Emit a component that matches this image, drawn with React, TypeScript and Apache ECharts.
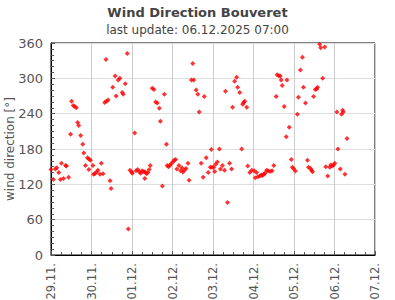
import React, { useEffect, useRef } from "react";
import * as echarts from "echarts";

const dayLabels = ["29.11.", "30.11.", "01.12.", "02.12.", "03.12.", "04.12.", "05.12.", "06.12.", "07.12."];
const yTicks = [0, 60, 120, 180, 240, 300, 360];

// [hour of day, wind direction in degrees]
const nov29 = [[0, 145], [1.4, 128], [2.6, 146], [3.4, 148], [4.6, 140], [5.6, 128], [6.2, 156], [7.4, 130], [8.6, 152], [9.2, 151], [10.4, 132], [11.6, 205], [12.2, 261], [13.2, 254], [14, 252], [15, 250], [15.8, 225], [16.4, 220], [17.6, 203], [18.8, 188], [19.4, 173], [20.4, 152], [21.6, 165], [22.4, 163], [22.4, 145], [23.4, 161]];
const nov30 = [[0.8, 152], [1.2, 137], [2, 138], [3, 141], [3.8, 144], [5, 137], [5.8, 156], [6.8, 138], [7.8, 259], [8.6, 332], [8.8, 261], [9.8, 263], [11, 126], [11.6, 113], [12.6, 285], [14, 304], [14.6, 270], [15.8, 297], [16.8, 300], [18.2, 276], [18.8, 273], [20, 291], [21.2, 342], [21.8, 44], [22.8, 144], [23.8, 141]];
const dec01 = [[0.2, 139], [1.6, 207], [2.4, 143], [3.4, 145], [4.4, 141], [5.2, 139], [6, 143], [7, 142], [7.6, 130], [7.8, 141], [8.6, 138], [9.4, 140], [10.2, 145], [10.8, 152], [12, 283], [13, 281], [14, 260], [15, 258], [16.2, 249], [16.8, 227], [18, 117], [19.2, 273], [20.4, 188], [20.8, 152], [21.6, 150], [22.4, 152], [23.2, 155]];
const dec02 = [[0.2, 158], [1, 161], [1.8, 162], [2.6, 146], [3.8, 152], [4.8, 143], [5.6, 148], [6.2, 141], [7, 144], [8, 147], [9.2, 156], [9.8, 127], [11.2, 297], [12, 325], [12.6, 297], [14, 280], [15, 273], [15.8, 243], [17, 156], [18.2, 132], [18.8, 269], [20, 165], [21.2, 140], [22.4, 149], [23, 179], [23.4, 149]];
const dec03 = [[0.4, 149], [1, 142], [1.6, 154], [2.6, 158], [3.8, 180], [4.4, 146], [5.6, 152], [6.8, 144], [7.4, 278], [8.6, 89], [9.8, 156], [11, 146], [11.6, 251], [12.8, 295], [14, 302], [14.6, 285], [15.8, 276], [17, 180], [17.6, 256], [18.2, 259], [18.8, 261], [20, 251], [20.6, 151], [21.8, 140], [23, 144]];
const dec04 = [[0.4, 143], [1, 131], [1.8, 140], [2.6, 133], [3.8, 134], [4.6, 136], [5.4, 135], [6.2, 137.5], [6.8, 139], [7.8, 144], [8.6, 143], [9.8, 142], [11, 143], [12, 152], [13.4, 269], [14, 306], [15, 304.5], [15.8, 304], [16.4, 297], [17, 288], [18.2, 252], [19.4, 201], [19.8, 297], [21.2, 217], [22.4, 162], [23, 149], [23.8, 146.6]];
const dec05 = [[0.8, 142.6], [2, 239], [2.6, 268], [3.8, 314], [5, 336], [5.6, 285], [6.8, 258], [8, 161], [8.6, 149], [9.8, 147], [10.4, 144], [11, 141.5], [11.6, 269], [12.6, 281], [13.4, 282], [14, 285], [15.2, 358], [15.8, 352], [17, 300], [18.2, 353], [18.8, 150], [20, 134], [21.2, 149], [21.8, 153], [22.6, 151], [23.4, 153]];
const dec06 = [[0.2, 156], [1.4, 243], [2, 180], [3.4, 146], [4.2, 239], [4.8, 246], [5.2, 243], [6.2, 137], [7.4, 198]];

const days = [nov29, nov30, dec01, dec02, dec03, dec04, dec05, dec06];

const FONT = "DejaVu Sans";

export default function App() {
  const ref = useRef<HTMLDivElement>(null);
  useEffect(() => {
    if (!ref.current) return;
    const chart = echarts.init(ref.current, null, { renderer: "svg" });
    const data: number[][] = [];
    days.forEach((d, i) => d.forEach(([h, v]) => data.push([i * 24 + h, v])));
    chart.setOption({
      animation: false,
      backgroundColor: "#fff",
      title: {
        text: "Wind Direction Bouveret",
        subtext: "last update: 06.12.2025 07:00",
        left: "center",
        top: 1,
        itemGap: 5,
        textStyle: { fontFamily: FONT, fontSize: 13, fontWeight: "bold", color: "#444" },
        subtextStyle: { fontFamily: FONT, fontSize: 12, color: "#444" },
      },
      grid: {
        left: 51,
        right: 20,
        top: 43,
        bottom: 45,
        outerBoundsMode: "none",
        containLabel: false,
        show: true,
        borderColor: "#000",
        borderWidth: 1,
        backgroundColor: "transparent",
      },
      xAxis: {
        type: "value",
        min: 0,
        max: 192,
        interval: 24,
        axisLine: { show: true, lineStyle: { color: "#000", width: 1 } },
        axisTick: { show: true, inside: true, length: 4, lineStyle: { color: "#555" } },
        minorTick: { show: true, splitNumber: 4, length: 3, lineStyle: { color: "#555" } },
        splitLine: { show: true, lineStyle: { color: "#ccc", width: 1 } },
        axisLabel: {
          rotate: 90,
          margin: 8,
          fontFamily: FONT,
          fontSize: 11.5,
          color: "#555",
          formatter: (v: number) => dayLabels[Math.round(v / 24)] ?? "",
        },
      },
      yAxis: {
        type: "value",
        min: 0,
        max: 360,
        interval: 60,
        name: "wind direction [°]",
        nameLocation: "middle",
        nameGap: 35,
        nameMoveOverlap: false,
        nameTextStyle: { fontFamily: FONT, fontSize: 12, color: "#555" },
        axisLine: { show: true, lineStyle: { color: "#000", width: 1 } },
        axisTick: { show: true, inside: true, length: 4, lineStyle: { color: "#555" } },
        minorTick: { show: true, splitNumber: 6, length: 3, lineStyle: { color: "#555" } },
        splitLine: { show: true, lineStyle: { color: "#ddd", width: 1 } },
        axisLabel: {
          margin: 8,
          fontFamily: FONT,
          fontSize: 13,
          color: "#555",
          formatter: (v: number) => (yTicks.includes(v) ? String(v) : ""),
        },
      },
      series: [
        {
          type: "scatter",
          data,
          symbol: "diamond",
          symbolSize: 5,
          itemStyle: { color: "#ff0000" },
          clip: false,
        },
      ],
    });
    return () => chart.dispose();
  }, []);
  return <div ref={ref} style={{ position: "fixed", left: 0, top: 0, width: 395, height: 300 }} />;
}
